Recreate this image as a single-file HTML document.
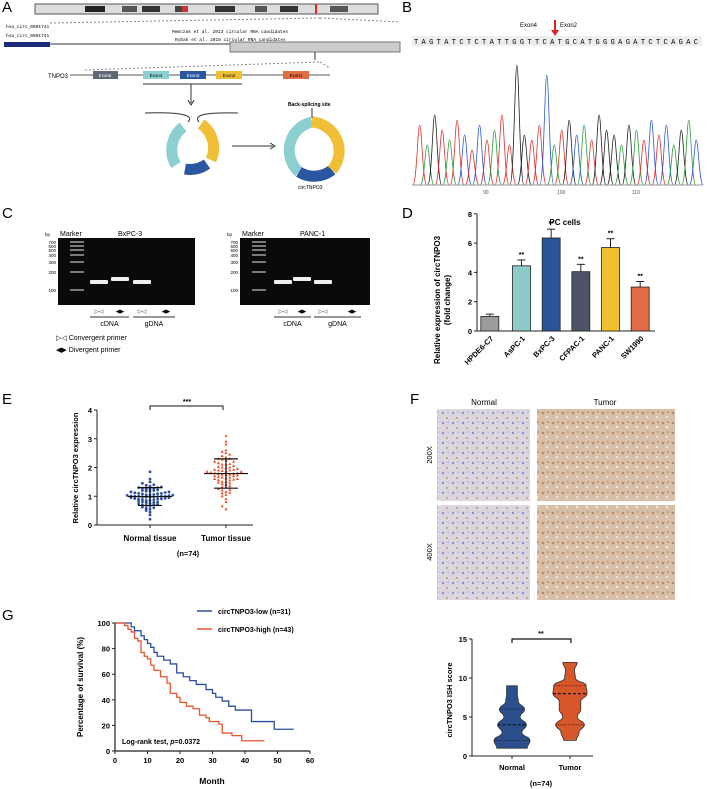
<!DOCTYPE html>
<html><head><meta charset="utf-8"><style>
body{margin:0;background:#fff}
svg{display:block;font-family:"Liberation Sans",Arial,sans-serif}
.b{font-weight:bold}
</style></head><body>
<svg id="fig" width="708" height="789" viewBox="0 0 708 789">
<g font-size="15">
<text x="2" y="12">A</text><text x="402" y="12">B</text><text x="2" y="218">C</text>
<text x="402" y="218">D</text><text x="2" y="404">E</text><text x="410" y="404">F</text><text x="2" y="620">G</text>
</g>
<g>
<rect x="35" y="4" width="343" height="10" fill="#ddd" stroke="#555"/>
<rect x="85" y="6" width="20" height="6" fill="#222"/><rect x="122" y="6" width="15" height="6" fill="#555"/>
<rect x="142" y="6" width="18" height="6" fill="#333"/><rect x="175" y="6" width="10" height="6" fill="#444"/>
<rect x="215" y="6" width="20" height="6" fill="#333"/><rect x="255" y="6" width="12" height="6" fill="#555"/>
<rect x="280" y="6" width="18" height="6" fill="#333"/><rect x="330" y="6" width="18" height="6" fill="#555"/>
<rect x="315" y="4" width="2" height="10" fill="#e22"/><rect x="182" y="6" width="6" height="6" fill="#c33"/>
<line x1="50" y1="23" x2="320" y2="18" stroke="#888" stroke-dasharray="2,2"/>
<line x1="320" y1="18" x2="400" y2="22" stroke="#888" stroke-dasharray="2,2"/>
<text x="6" y="28" font-size="4.5" font-family="Liberation Mono">hsa_circ_0001741</text>
<text x="6" y="37" font-size="4.5" font-family="Liberation Mono">hsa_circ_0001741</text>
<text x="172" y="33" font-size="4.5" font-family="Liberation Mono">Memczak et al. 2013 circular RNA candidates</text>
<text x="175" y="41" font-size="4.5" font-family="Liberation Mono">Rybak et al. 2015 circular RNA candidates</text>
<rect x="4" y="42" width="46" height="5" fill="#1d2a7a"/>
<line x1="50" y1="44" x2="400" y2="44" stroke="#334" />
<rect x="230" y="42" width="170" height="10" fill="#ccc" stroke="#777"/>
<line x1="315" y1="52" x2="315" y2="60" stroke="#333"/>
<line x1="85" y1="70" x2="320" y2="62" stroke="#888" stroke-dasharray="2,2"/>
<line x1="320" y1="62" x2="330" y2="68" stroke="#888" stroke-dasharray="2,2"/>
<text x="48" y="78" font-size="6">TNPO3</text>
<line x1="70" y1="75" x2="330" y2="75" stroke="#555"/>
<rect x="93" y="71" width="25" height="8" fill="#606878"/><text x="105" y="77" font-size="4.5" text-anchor="middle" fill="#fff">Exon5</text>
<rect x="143" y="71" width="26" height="8" fill="#8ccfd0"/><text x="156" y="77" font-size="4.5" text-anchor="middle">Exon4</text>
<rect x="180" y="71" width="26" height="8" fill="#2b57a0"/><text x="193" y="77" font-size="4.5" text-anchor="middle" fill="#fff">Exon3</text>
<rect x="216" y="71" width="26" height="8" fill="#f0bf35"/><text x="229" y="77" font-size="4.5" text-anchor="middle">Exon2</text>
<rect x="283" y="71" width="26" height="8" fill="#e06c45"/><text x="296" y="77" font-size="4.5" text-anchor="middle">Exon1</text>
<line x1="143" y1="84" x2="242" y2="84" stroke="#333"/>
<line x1="191" y1="84" x2="191" y2="103" stroke="#333"/><path d="M188,100 L191,105 L194,100" fill="none" stroke="#333"/>
<line x1="232" y1="146" x2="273" y2="146" stroke="#333"/><path d="M270,143 L275,146 L270,149" fill="none" stroke="#333"/>
<path d="M145,113 C180,112 195,115 188,122 M238,113 C205,112 193,115 199,122" fill="none" stroke="#333"/>
<g fill="none" stroke-width="11">
<path d="M183,127 A29,29 0 0 0 176,165" stroke="#8ccfd0"/>
<path d="M185,169 A29,29 0 0 0 207,164" stroke="#2b57a0"/>
<path d="M211,160 A29,29 0 0 0 201,124" stroke="#f0bf35"/>
<path d="M312,122 A29,29 0 0 0 299,172" stroke="#8ccfd0"/>
<path d="M299,172 A29,29 0 0 0 332,170" stroke="#2b57a0"/>
<path d="M332,170 A29,29 0 0 0 312,122" stroke="#f0bf35"/>
</g>
<text x="288" y="106" font-size="5" class="b">Back-splicing site</text>
<line x1="312" y1="108" x2="312" y2="118" stroke="#333"/>
<text x="298" y="189" font-size="5">circTNPO3</text>
</g>
<g>
<text x="520" y="27" font-size="6">Exon4</text><text x="560" y="27" font-size="6">Exon2</text>
<path d="M555,20 L555,32" stroke="#d22" stroke-width="2"/><path d="M551,30 L555,36 L559,30Z" fill="#d22"/>
<rect x="412" y="36" width="290" height="10" fill="#eee"/>
<text id="seq" x="414" y="44" font-size="7" font-family="Liberation Mono" textLength="284" lengthAdjust="spacing">TAGTATCTCTATTGGTTCATGCATGGGAGATCTCAGAC</text>
<g id="peaks"></g>
<line x1="412" y1="185" x2="702" y2="185" stroke="#999"/>
<text x="483" y="194" font-size="5" fill="#555">90</text><text x="557" y="194" font-size="5" fill="#555">100</text><text x="632" y="194" font-size="5" fill="#555">110</text>
</g>
<g font-size="6">
<text x="60" y="236" font-size="7">Marker</text><text x="118" y="236" font-size="7">BxPC-3</text>
<text x="45" y="236" font-size="4.5">bp</text>
<text x="242" y="236" font-size="7">Marker</text><text x="300" y="236" font-size="7">PANC-1</text>
<text x="227" y="236" font-size="4.5">bp</text>
<rect x="58" y="238" width="137" height="67" fill="#0a0a0a"/>
<rect x="240" y="238" width="130" height="67" fill="#0a0a0a"/>
<g id="gels"></g>
<text x="56" y="340" font-size="7">▷◁ Convergent primer</text>
<text x="56" y="352" font-size="7">◀▶ Divergent primer</text>
</g>
<g>
<text x="565" y="225" font-size="8" class="b" text-anchor="middle">PC cells</text>
<text transform="translate(440,300) rotate(-90)" font-size="8" class="b" text-anchor="middle">Relative expression of circTNPO3</text>
<text transform="translate(450,300) rotate(-90)" font-size="8" class="b" text-anchor="middle">(fold change)</text>
<g id="dchart"></g>
</g>
<g>
<text transform="translate(78,468) rotate(-90)" font-size="7.5" class="b" text-anchor="middle">Relative circTNPO3 expression</text>
<g id="echart"></g>
<text x="188" y="556" font-size="7.5" class="b" text-anchor="middle">(n=74)</text>
</g>
<g>
<text x="484" y="405" font-size="8" text-anchor="middle">Normal</text>
<text x="605" y="405" font-size="8" text-anchor="middle">Tumor</text>
<text transform="translate(432,455) rotate(-90)" font-size="7.5" text-anchor="middle">200X</text>
<text transform="translate(432,552) rotate(-90)" font-size="7.5" text-anchor="middle">400X</text>
<defs>
<pattern id="pn" width="10" height="10" patternUnits="userSpaceOnUse"><rect width="10" height="10" fill="#dcd7df"/><circle cx="3" cy="3" r="1.2" fill="#8a8fcf"/><circle cx="7" cy="8" r="1" fill="#b99a7f"/><circle cx="8" cy="2" r="0.8" fill="#9fa4d8"/></pattern>
<pattern id="pt" width="10" height="10" patternUnits="userSpaceOnUse"><rect width="10" height="10" fill="#d8c0a8"/><circle cx="3" cy="3" r="1.3" fill="#b88a62"/><circle cx="7" cy="7" r="1.2" fill="#eee4dc"/><circle cx="8" cy="2" r="0.8" fill="#a57752"/></pattern>
</defs>
<rect x="437" y="409" width="93" height="92" fill="url(#pn)"/>
<rect x="537" y="409" width="138" height="92" fill="url(#pt)"/>
<rect x="437" y="505" width="93" height="95" fill="url(#pn)"/>
<rect x="537" y="505" width="138" height="95" fill="url(#pt)"/>
</g>
<g>
<text transform="translate(452,700) rotate(-90)" font-size="7.5" class="b" text-anchor="middle">circTNPO3 ISH score</text>
<g id="vchart"></g>
<text x="541" y="786" font-size="7.5" class="b" text-anchor="middle">(n=74)</text>
</g>
<g>
<text transform="translate(83,687) rotate(-90)" font-size="8" class="b" text-anchor="middle">Percentage of survival (%)</text>
<text x="212" y="784" font-size="8.5" class="b" text-anchor="middle">Month</text>
<g id="gchart"></g>
<text x="122" y="744" font-size="7" class="b">Log-rank test, <tspan font-style="italic">p</tspan>=0.0372</text>
<g>
<line x1="197" y1="611" x2="212" y2="611" stroke="#2d4e9e" stroke-width="1.5"/>
<text x="218" y="614" font-size="7" class="b">circTNPO3-low (n=31)</text>
<line x1="197" y1="629" x2="212" y2="629" stroke="#e5562f" stroke-width="1.5"/>
<text x="218" y="632" font-size="7" class="b">circTNPO3-high (n=43)</text>
</g>
</g>
</svg>
<script>
const NS="http://www.w3.org/2000/svg";
function mk(tag,attrs,parent,txt){const e=document.createElementNS(NS,tag);for(const k in attrs)e.setAttribute(k,attrs[k]);if(txt!==undefined)e.textContent=txt;parent.appendChild(e);return e;}

const dCategories=["HPDE6-C7","AsPC-1","BxPC-3","CFPAC-1","PANC-1","SW1990"];
const dValues=[1.0,4.45,6.35,4.05,5.7,3.0];
const dErrors=[0.15,0.4,0.6,0.5,0.6,0.38];
const dColors=["#9c9c9c","#8ccbc9","#2c5597","#4c5468","#f0c030","#e06c45"];
const dTicks=[0,2,4,6,8];
const eNormal=[0.2,0.35,0.45,0.5,0.55,0.6,0.62,0.65,0.68,0.7,0.7,0.72,0.75,0.78,0.8,0.8,0.82,0.85,0.85,0.88,0.9,0.9,0.92,0.93,0.95,0.95,0.96,0.97,0.98,0.99,1.0,1.0,1.0,1.01,1.02,1.03,1.05,1.05,1.06,1.08,1.1,1.1,1.12,1.13,1.15,1.15,1.17,1.2,1.2,1.22,1.25,1.25,1.27,1.3,1.3,1.32,1.35,1.4,1.45,1.5,1.6,1.85,0.58,0.73,0.87,0.91,0.97,1.04,1.09,1.18,1.28,1.38,0.78,1.0];
const eTumor=[0.55,0.65,0.8,0.9,1.0,1.05,1.1,1.15,1.2,1.25,1.3,1.35,1.4,1.45,1.5,1.5,1.55,1.6,1.6,1.65,1.65,1.7,1.7,1.72,1.75,1.75,1.78,1.8,1.8,1.82,1.85,1.85,1.88,1.9,1.9,1.92,1.95,2.0,2.0,2.05,2.1,2.1,2.15,2.2,2.2,2.25,2.3,2.3,2.35,2.4,2.5,2.55,2.6,2.8,2.9,3.1,1.48,1.58,1.68,1.78,1.98,2.02,1.62,1.42,1.32,1.22,1.92,2.12,2.28,1.86,1.74,1.56,2.45,1.12];
const eStats=[{mean:0.99,sd:0.31},{mean:1.79,sd:0.51}];
const eTicks=[0,1,2,3,4];
const vScores=[1,2,3,4,5,6,7,8,9,10,11,12];
const vNormalDensity=[0.85,1.0,0.55,0.8,0.45,0.7,0.35,0.3,0.3,0,0,0];
const vTumorDensity=[0,0.35,0.5,0.8,0.4,0.6,0.6,0.95,0.9,0.3,0.25,0.4];
const vNormalQuart=[2,4,6];
const vTumorQuart=[4,8,9];
const vTicks=[0,5,10,15];
const kmLowT=[0,4,5,6,8,9,10,11,12,13,15,17,19,21,23,25,28,30,31,33,35,37,42,49,55];
const kmLowS=[100,100,97,94,90,87,84,81,77,74,71,68,61,58,55,52,48,45,42,39,35,32,23,17,17];
const kmHighT=[0,3,4,5,6,7,8,9,10,11,12,14,16,17,19,20,22,24,26,28,29,32,33,36,39,46];
const kmHighS=[100,98,95,93,88,86,77,74,72,67,63,58,53,45,42,38,35,33,28,26,23,21,14,12,8,8];
const kmXTicks=[0,10,20,30,40,50,60];
const kmYTicks=[0,20,40,60,80,100];
const bPeakHeights=[60,40,70,55,45,65,50,35,60,45,55,70,40,120,50,45,60,110,40,55,65,50,60,45,70,55,50,40,60,55,45,65,50,60,40,55,65,45];
const bases="TAGTATCTCTATTGGTTCATGCATGGGAGATCTCAGAC";
const baseColors={A:"#2a9d3a",C:"#2a5bd6",G:"#222",T:"#e23030"};

(function(){const g=document.getElementById('peaks');const x0=416,step=284/bases.length;
for(let i=0;i<bases.length;i++){const x=x0+step*(i+0.5);const h=bPeakHeights[i];
const p=mk('path',{d:`M${x-7},185 C${x-3},185 ${x-2},${185-h} ${x},${185-h} C${x+2},${185-h} ${x+3},185 ${x+7},185`,fill:'none',stroke:baseColors[bases[i]],'stroke-width':0.8},g);

}})();

(function(){const g=document.getElementById('gels');
const ladder=[700,600,500,400,300,200,100];const ladY=[242,246,250,255,262,272,290];
[58,240].forEach((gx,gi)=>{
 ladder.forEach((v,i)=>{mk('text',{x:gx-2,y:ladY[i]+2,'font-size':4.5,'text-anchor':'end'},g,v);mk('rect',{x:gx+12,y:ladY[i]-0.7,width:14,height:1.4,fill:'#aaa'},g);});
 const lx= gi==0?[99,120,142]:[283,302,323];const ly=[282,279,282];
 lx.forEach((x,j)=>{const r=mk('rect',{x:x-9,y:ly[j]-2,width:18,height:4,fill:'#eee',rx:1},g);});
 const lab=gi==0?[99,120,142,166]:[283,302,323,352];
 lab.forEach((x,j)=>mk('text',{x:x,y:313,'font-size':5.5,'text-anchor':'middle'},g,j%2==0?'▷◁':'◀▶'));
 mk('line',{x1:lab[0]-9,y1:317,x2:lab[1]+9,y2:317,stroke:'#333'},g);mk('line',{x1:lab[2]-9,y1:317,x2:lab[3]+9,y2:317,stroke:'#333'},g);
 mk('text',{x:(lab[0]+lab[1])/2,y:326,'font-size':7,'text-anchor':'middle'},g,'cDNA');mk('text',{x:(lab[2]+lab[3])/2,y:326,'font-size':7,'text-anchor':'middle'},g,'gDNA');
});})();

(function(){const g=document.getElementById('dchart');
const x0=477,x1=655,yB=331,yPer=14.65;const y=v=>yB-v*yPer;const bw=(x1-x0)/dCategories.length;
mk('line',{x1:x0,y1:y(8),x2:x0,y2:yB,stroke:'#222','stroke-width':1},g);
mk('line',{x1:x0,y1:yB,x2:x1,y2:yB,stroke:'#222','stroke-width':1},g);
dTicks.forEach(t=>{mk('line',{x1:x0-3,y1:y(t),x2:x0,y2:y(t),stroke:'#222'},g);mk('text',{x:x0-5,y:y(t)+3,'font-size':7.5,'text-anchor':'end','font-weight':'bold'},g,t);});
dCategories.forEach((c,i)=>{const cx=x0+bw*(i+0.5)+(i==0?-2:0);const v=dValues[i],e=dErrors[i];
 mk('line',{x1:cx,y1:y(v),x2:cx,y2:y(v+e),stroke:'#222'},g);mk('line',{x1:cx-4,y1:y(v+e),x2:cx+4,y2:y(v+e),stroke:'#222'},g);
 const r=mk('rect',{x:cx-9,y:y(v),width:18,height:v*yPer,fill:dColors[i],stroke:'#222','stroke-width':0.8},g);
 
 
 if(i>0)mk('text',{x:cx,y:y(v+e)-3,'font-size':7,'text-anchor':'middle','font-weight':'bold'},g,'**');
 mk('text',{transform:`translate(${cx+4},${yB+8}) rotate(-45)`,'font-size':7.5,'text-anchor':'end','font-weight':'bold'},g,c);
});})();

(function(){const g=document.getElementById('echart');
const x0=97,x1=253,yB=525,yPer=28.75;const y=v=>yB-v*yPer;const cx=[150,226];
mk('line',{x1:x0,y1:y(4),x2:x0,y2:yB,stroke:'#222'},g);mk('line',{x1:x0,y1:yB,x2:x1,y2:yB,stroke:'#222'},g);
eTicks.forEach(t=>{mk('line',{x1:x0-3,y1:y(t),x2:x0,y2:y(t),stroke:'#222'},g);mk('text',{x:x0-5,y:y(t)+3,'font-size':7.5,'text-anchor':'end','font-weight':'bold'},g,t);});
cx.forEach(c=>mk('line',{x1:c,y1:yB,x2:c,y2:yB+3,stroke:'#222'},g));
mk('text',{x:150,y:541,'font-size':8,'text-anchor':'middle','font-weight':'bold'},g,'Normal tissue');
mk('text',{x:226,y:541,'font-size':8,'text-anchor':'middle','font-weight':'bold'},g,'Tumor tissue');
[eNormal,eTumor].forEach((arr,gi)=>{const sorted=arr.slice().sort((a,b)=>a-b);const bins={};
 const bs=gi==0?0.1:0.12;
 sorted.forEach(v=>{const k=Math.round(v/bs);bins[k]=(bins[k]||0)+1;const n=bins[k];const off=((n%2?1:-1)*Math.floor(n/2))*3.8;
  let el;if(gi==0)el=mk('circle',{cx:cx[gi]+off,cy:y(v),r:1.4,fill:'#2d4e9e'},g);
  else el=mk('path',{d:`M${cx[gi]+off},${y(v)-1.8} l1.6,2.8 l-3.2,0z`,fill:'#e5562f'},g);
  
  });
 const s=eStats[gi];
 mk('line',{x1:cx[gi]-22,y1:y(s.mean),x2:cx[gi]+22,y2:y(s.mean),stroke:'#111','stroke-width':1.2},g);
 mk('line',{x1:cx[gi],y1:y(s.mean-s.sd),x2:cx[gi],y2:y(s.mean+s.sd),stroke:'#111','stroke-width':1.2},g);
 [s.mean-s.sd,s.mean+s.sd].forEach(v=>mk('line',{x1:cx[gi]-12,y1:y(v),x2:cx[gi]+12,y2:y(v),stroke:'#111','stroke-width':1.2},g));
});
mk('path',{d:`M150,410 L150,406 L223,406 L223,410`,fill:'none',stroke:'#111'},g);
mk('text',{x:187,y:404,'font-size':7,'text-anchor':'middle','font-weight':'bold'},g,'***');
})();

(function(){const g=document.getElementById('vchart');
const x0=472,x1=593,yB=756,yPer=7.8;const y=v=>yB-v*yPer;const cx=[512,570];const hw=18;
mk('line',{x1:x0,y1:y(15),x2:x0,y2:yB,stroke:'#222'},g);mk('line',{x1:x0,y1:yB,x2:x1,y2:yB,stroke:'#222'},g);
vTicks.forEach(t=>{mk('line',{x1:x0-3,y1:y(t),x2:x0,y2:y(t),stroke:'#222'},g);mk('text',{x:x0-5,y:y(t)+3,'font-size':7.5,'text-anchor':'end','font-weight':'bold'},g,t);});
cx.forEach(c=>mk('line',{x1:c,y1:yB,x2:c,y2:yB+3,stroke:'#222'},g));
mk('text',{x:512,y:770,'font-size':7.5,'text-anchor':'middle','font-weight':'bold'},g,'Normal');
mk('text',{x:570,y:770,'font-size':7.5,'text-anchor':'middle','font-weight':'bold'},g,'Tumor');
function smooth(pts){let d='';for(let i=0;i<pts.length-1;i++){const p=pts[i],q=pts[i+1];const my=(p[1]+q[1])/2;d+=` C${p[0]},${my} ${q[0]},${my} ${q[0]},${q[1]}`;}return d;}
[[vNormalDensity,vNormalQuart,'#2b4f8c'],[vTumorDensity,vTumorQuart,'#d8572a']].forEach((d,gi)=>{
 const dens=d[0];let idx=[];dens.forEach((v,i)=>{if(v>0)idx.push(i);});
 const first=idx[0],last=idx[idx.length-1];let right=[],left=[];
 for(let i=first;i<=last;i++){right.push([cx[gi]+dens[i]*hw,y(vScores[i])]);left.push([cx[gi]-dens[i]*hw,y(vScores[i])]);}
 let dstr='M'+cx[gi]+','+y(vScores[first])+' L'+right[0][0]+','+right[0][1]+smooth(right)+' L'+cx[gi]+','+y(vScores[last]);
 left.reverse();dstr+=' L'+left[0][0]+','+left[0][1]+smooth(left)+'Z';
 const p=mk('path',{d:dstr,fill:d[2],stroke:'#333','stroke-width':0.8,'stroke-linejoin':'round'},g);
 
 
 d[1].forEach((q,k)=>{const i=vScores.indexOf(q);const w=dens[i]*hw;mk('line',{x1:cx[gi]-w,y1:y(q),x2:cx[gi]+w,y2:y(q),stroke:'#111','stroke-width':k==1?1.2:0.9,'stroke-dasharray':k==1?'3,2':'1,1.5'},g);});
});
mk('path',{d:`M512,643 L512,639 L571,639 L571,643`,fill:'none',stroke:'#111','stroke-width':1.2},g);
mk('text',{x:541,y:636,'font-size':7,'text-anchor':'middle','font-weight':'bold'},g,'**');
})();

(function(){const g=document.getElementById('gchart');
const x0=115,x1=310,yB=751,yT=623;const x=t=>x0+t*(x1-x0)/60;const y=s=>yB-s*(yB-yT)/100;
mk('line',{x1:x0,y1:yT,x2:x0,y2:yB,stroke:'#222','stroke-width':1.2},g);mk('line',{x1:x0,y1:yB,x2:x1,y2:yB,stroke:'#222','stroke-width':1.2},g);
kmYTicks.forEach(t=>{mk('line',{x1:x0-3,y1:y(t),x2:x0,y2:y(t),stroke:'#222'},g);mk('text',{x:x0-5,y:y(t)+3,'font-size':7.5,'text-anchor':'end','font-weight':'bold'},g,t);});
kmXTicks.forEach(t=>{mk('line',{x1:x(t),y1:yB,x2:x(t),y2:yB+3,stroke:'#222'},g);mk('text',{x:x(t),y:yB+12,'font-size':7.5,'text-anchor':'middle','font-weight':'bold'},g,t);});
[[kmLowT,kmLowS,'#2d4e9e','km-low'],[kmHighT,kmHighS,'#e5562f','km-high']].forEach(s=>{
 let d='M'+x(s[0][0])+','+y(s[1][0]);for(let i=1;i<s[0].length;i++){d+=' H'+x(s[0][i])+' V'+y(s[1][i]);}
 const p=mk('path',{d:d,fill:'none',stroke:s[2],'stroke-width':1.3},g);
 
 });
})();
</script>
</body></html>
